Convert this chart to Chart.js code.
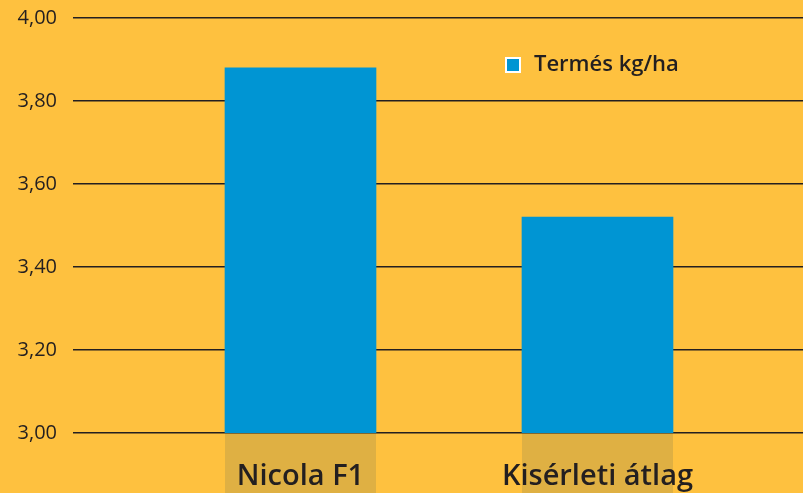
<!DOCTYPE html>
<html>
<head>
<meta charset="utf-8">
<script src="https://cdn.jsdelivr.net/npm/chart.js@4"></script>
<style>
  body { margin: 0; background: #fec13f; }
  #wrap { width: 803px; height: 493px; }
</style>
</head>
<body>
<div id="wrap"><canvas id="chart1" width="803" height="493"></canvas></div>
<script>
var categories = ["Nicola F1", "Kisérleti átlag"];
var yieldValues = [3.88, 3.52];
var seriesLabel = "Termés kg/ha";
var yTicks = [3.0, 3.2, 3.4, 3.6, 3.8, 4.0];

var bg = "#fec13f";
var blue = "#0095d3";
var ink = "#231f20";

// background, tan strip under each bar, and the floating legend
var decor = {
  id: "decor",
  beforeDraw: function (chart) {
    var ctx = chart.ctx;
    ctx.save();
    ctx.fillStyle = bg;
    ctx.fillRect(0, 0, chart.width, chart.height);
    var meta = chart.getDatasetMeta(0);
    ctx.fillStyle = "#dfb043";
    meta.data.forEach(function (bar) {
      ctx.fillRect(bar.x - bar.width / 2, chart.chartArea.bottom, bar.width, chart.height - chart.chartArea.bottom);
    });
    ctx.restore();
  },
  afterDraw: function (chart) {
    var ctx = chart.ctx;
    ctx.save();
    ctx.fillStyle = "#ffffff";
    ctx.fillRect(505, 57, 16, 16);
    ctx.fillStyle = blue;
    ctx.fillRect(507, 59, 12, 12);
    ctx.fillStyle = ink;
    ctx.font = "600 22px 'Open Sans'";
    ctx.textBaseline = "middle";
    ctx.fillText(chart.data.datasets[0].label, 534, 65);
    ctx.restore();
  }
};

var ctx = document.getElementById("chart1");
var myChart = new Chart(ctx, {
  type: "bar",
  data: {
    datasets: [
      {
        label: seriesLabel,
        data: yieldValues.map(function (v, i) {
          return { x: i, y: v };
        }),
        backgroundColor: blue,
        borderWidth: 0,
        barThickness: 151,
      },
    ],
  },
  options: {
    responsive: false,
    animation: false,
    layout: { padding: { top: 18, right: 0, left: 0, bottom: 0 } },
    plugins: {
      legend: { display: false },
      tooltip: { enabled: false },
    },
    scales: {
      x: {
        type: "linear",
        offset: false,
        bounds: "data",
        min: -0.766,
        max: 1.692,
        afterBuildTicks: function (scale) {
          scale.ticks = categories.map(function (c, i) {
            return { value: i };
          });
        },
        afterFit: function (scale) {
          scale.height = 60;
          scale.paddingLeft = 0;
          scale.paddingRight = 0;
        },
        grid: { display: false, drawTicks: false, offset: false },
        border: { display: false },
        ticks: {
          padding: 26,
          color: ink,
          font: { family: "'Open Sans'", size: 29, weight: "600" },
          callback: function (v) {
            return categories[v];
          },
        },
      },
      y: {
        min: 3.0,
        max: 4.0,
        afterBuildTicks: function (scale) {
          scale.ticks = yTicks.map(function (v) {
            return { value: v };
          });
        },
        afterFit: function (scale) {
          scale.width = 73;
          scale.paddingTop = 0;
          scale.paddingBottom = 0;
        },
        grid: { color: ink, lineWidth: 1.5, drawTicks: false },
        border: { display: false },
        ticks: {
          padding: 16,
          color: ink,
          font: { family: "'Open Sans'", size: 20, weight: "500" },
          callback: function (v) {
            return v.toFixed(2).replace(".", ",");
          },
        },
      },
    },
  },
  plugins: [decor],
});
</script>
</body>
</html>
